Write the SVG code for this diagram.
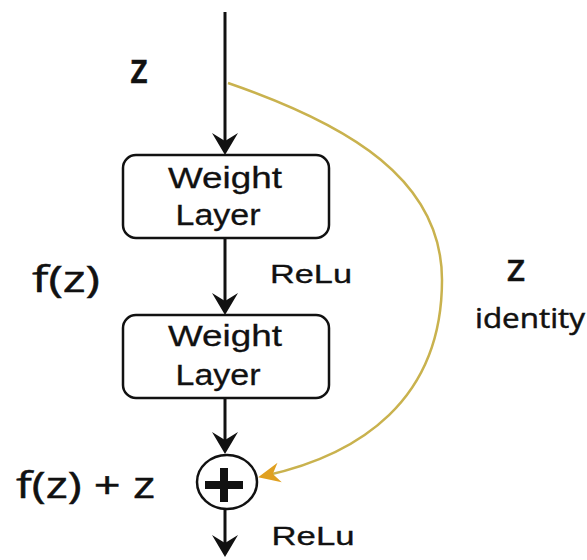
<svg xmlns="http://www.w3.org/2000/svg" width="587" height="560" viewBox="0 0 587 560">
<style>
.box{fill:#fff;stroke:#111;stroke-width:2.5}
.lbl{font-family:"Liberation Sans",Arial,sans-serif;fill:#111;text-anchor:middle;stroke:#111;stroke-width:0.3}
.math{font-family:"Open Sans","Noto Sans",sans-serif;fill:#111;stroke:#111;stroke-width:0.5}
.bold{font-weight:600}
.edge{fill:none;stroke:#111;stroke-width:3}
.skip{fill:none;stroke:#c9b24e;stroke-width:2.5}
</style>
<defs>
<marker id="ah" viewBox="-23 -14 24 28" refX="-10" refY="0" markerWidth="24" markerHeight="28" markerUnits="userSpaceOnUse" orient="auto">
<path d="M0,0 L-22,-13 L-14,0 L-22,13 Z" fill="#111"/>
</marker>
<marker id="ahY" viewBox="-24 -12 25 24" refX="-6" refY="0" markerWidth="25" markerHeight="24" markerUnits="userSpaceOnUse" orient="auto">
<path d="M0,0 L-22,-10 L-15,0 L-22,10 Z" fill="#e0a020"/>
</marker>
</defs>
<rect width="587" height="560" fill="#fff"/>
<g id="connectors">
<path class="edge" d="M225,12 L225,145" marker-end="url(#ah)"/>
<path class="edge" d="M225,238 L225,305" marker-end="url(#ah)"/>
<path class="edge" d="M225,398 L225,444" marker-end="url(#ah)"/>
<path class="edge" d="M225,509 L225,547" marker-end="url(#ah)"/>
<path class="skip" d="M228,83 C350,125 442,180 442,280 C442,400 360,455 264,476" marker-end="url(#ahY)"/>
</g>
<g id="weight1">
<rect class="box" x="123" y="155" width="206" height="83" rx="13"/>
<text class="lbl" x="225" y="188" font-size="30" textLength="114" lengthAdjust="spacingAndGlyphs">Weight</text>
<text class="lbl" x="218" y="225" font-size="30" textLength="85" lengthAdjust="spacingAndGlyphs">Layer</text>
</g>
<g id="weight2">
<rect class="box" x="123" y="315" width="206" height="83" rx="13"/>
<text class="lbl" x="225" y="346" font-size="30" textLength="114" lengthAdjust="spacingAndGlyphs">Weight</text>
<text class="lbl" x="218" y="385" font-size="30" textLength="85" lengthAdjust="spacingAndGlyphs">Layer</text>
</g>
<g id="add">
<ellipse cx="227" cy="482" rx="30" ry="27" fill="#fff" stroke="#111" stroke-width="2.5"/>
<path d="M205,485 H243 M224,468 V502" stroke="#111" stroke-width="8" fill="none"/>
</g>
<g id="labels">
<text class="lbl" x="311" y="283" font-size="25" textLength="82" lengthAdjust="spacingAndGlyphs">ReLu</text>
<text class="lbl" x="313" y="545" font-size="25" textLength="83" lengthAdjust="spacingAndGlyphs">ReLu</text>
<text class="math bold" x="130" y="83" font-size="42" textLength="18" lengthAdjust="spacingAndGlyphs">z</text>
<text class="math" x="32" y="292" font-size="37" textLength="68" lengthAdjust="spacingAndGlyphs">f(z)</text>
<text class="math" x="16" y="498" font-size="37" textLength="139" lengthAdjust="spacingAndGlyphs">f(z) + z</text>
<text class="math bold" x="507" y="281" font-size="29" textLength="18" lengthAdjust="spacingAndGlyphs">Z</text>
<text class="math" x="475" y="328" font-size="27" textLength="110" lengthAdjust="spacingAndGlyphs">identity</text>
</g>
</svg>
